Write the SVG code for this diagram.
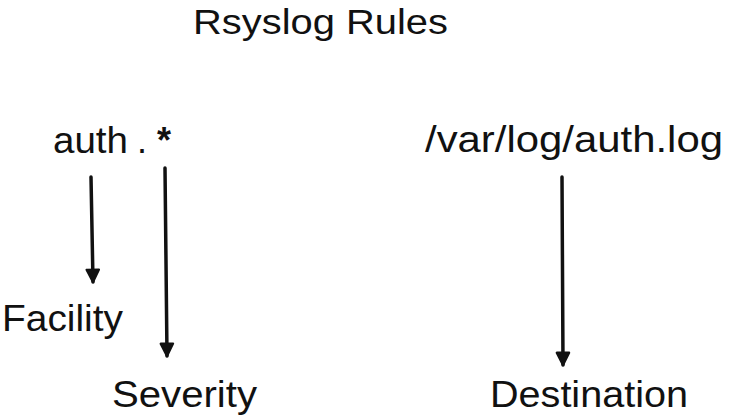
<svg xmlns="http://www.w3.org/2000/svg" width="736" height="416" viewBox="0 0 736 416">
<style>
text{font-family:"Liberation Sans","DejaVu Sans",sans-serif;fill:#111;}
.lbl{font-size:36px;}
.title{font-size:35px;}
.conn{stroke:#111;stroke-width:3.5;fill:none;stroke-linecap:round;}
</style>
<defs>
<marker id="ah" viewBox="0 0 10 10" refX="9" refY="5" markerWidth="4.4" markerHeight="4.4" orient="auto" markerUnits="strokeWidth">
<path d="M1,1 L9,5 L1,9 Z" fill="#111" stroke="#111" stroke-width="1.5" stroke-linejoin="round"/>
</marker>
</defs>
<rect width="736" height="416" fill="#fff"/>
<g id="title"><text class="title" x="193" y="34" textLength="255" lengthAdjust="spacingAndGlyphs">Rsyslog Rules</text></g>
<g id="rule"><text class="lbl" y="153"><tspan x="53" textLength="75" lengthAdjust="spacingAndGlyphs">auth</tspan><tspan x="137">.</tspan><tspan x="157" font-weight="bold">*</tspan></text></g>
<g id="dest-path"><text class="lbl" x="425" y="152" textLength="298" lengthAdjust="spacingAndGlyphs">/var/log/auth.log</text></g>
<g id="facility"><text class="lbl" x="2" y="331" textLength="121" lengthAdjust="spacingAndGlyphs">Facility</text></g>
<g id="severity"><text class="lbl" x="112" y="407" textLength="145" lengthAdjust="spacingAndGlyphs">Severity</text></g>
<g id="destination"><text class="lbl" x="490" y="407" textLength="198" lengthAdjust="spacingAndGlyphs">Destination</text></g>
<g id="connectors">
<line class="conn" x1="91" y1="177" x2="93" y2="282" marker-end="url(#ah)"/>
<line class="conn" x1="165" y1="168" x2="167" y2="356" marker-end="url(#ah)"/>
<line class="conn" x1="562" y1="177" x2="563" y2="365" marker-end="url(#ah)"/>
</g>
</svg>
